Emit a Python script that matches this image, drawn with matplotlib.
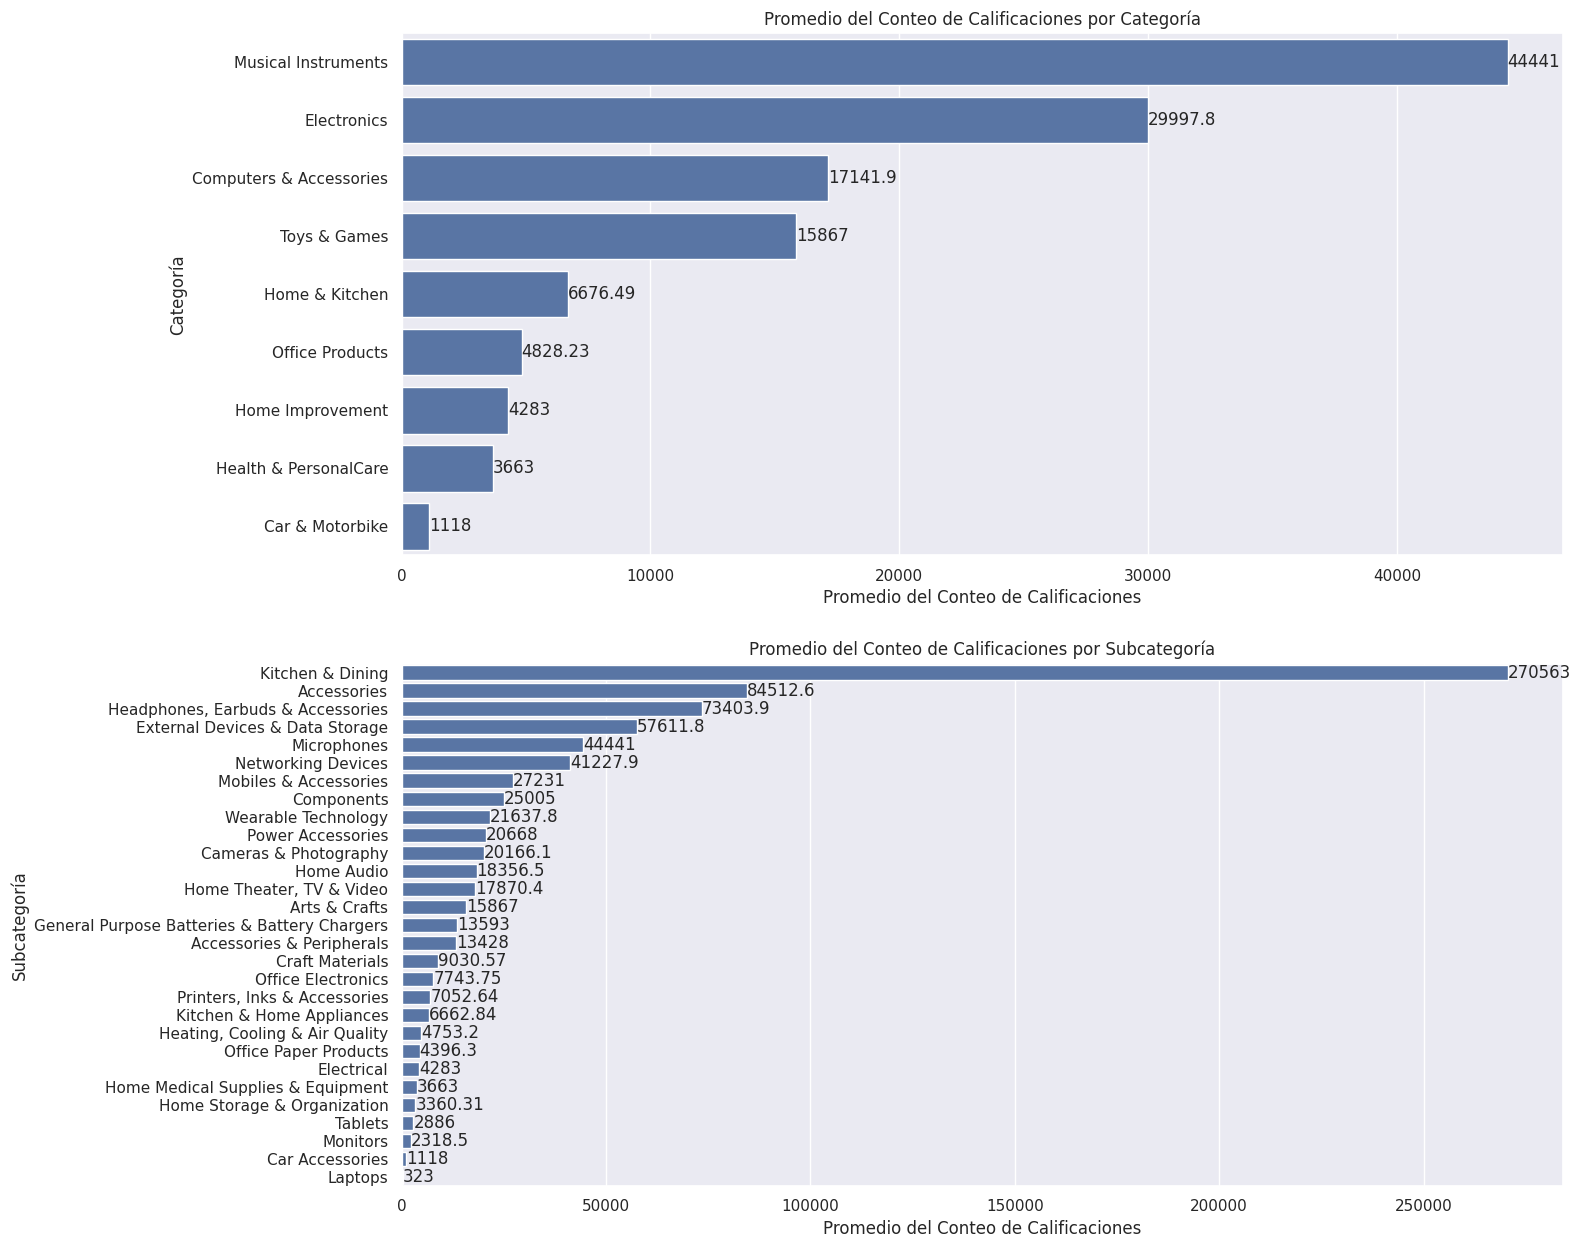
import matplotlib
matplotlib.use('Agg')
import matplotlib.pyplot as plt
import seaborn as sns
import pandas as pd

sns.set_theme()

categorias = ['Musical Instruments', 'Electronics', 'Computers & Accessories', 'Toys & Games',
              'Home & Kitchen', 'Office Products', 'Home Improvement', 'Health & PersonalCare',
              'Car & Motorbike']
cat_valores = [44441, 29997.8, 17141.9, 15867, 6676.49, 4828.23, 4283, 3663, 1118]

subcategorias = ['Kitchen & Dining', 'Accessories', 'Headphones, Earbuds & Accessories',
                 'External Devices & Data Storage', 'Microphones', 'Networking Devices',
                 'Mobiles & Accessories', 'Components', 'Wearable Technology', 'Power Accessories',
                 'Cameras & Photography', 'Home Audio', 'Home Theater, TV & Video', 'Arts & Crafts',
                 'General Purpose Batteries & Battery Chargers', 'Accessories & Peripherals',
                 'Craft Materials', 'Office Electronics', 'Printers, Inks & Accessories',
                 'Kitchen & Home Appliances', 'Heating, Cooling & Air Quality', 'Office Paper Products',
                 'Electrical', 'Home Medical Supplies & Equipment', 'Home Storage & Organization',
                 'Tablets', 'Monitors', 'Car Accessories', 'Laptops']
sub_valores = [270563, 84512.6, 73403.9, 57611.8, 44441, 41227.9, 27231, 25005, 21637.8, 20668,
               20166.1, 18356.5, 17870.4, 15867, 13593, 13428, 9030.57, 7743.75, 7052.64, 6662.84,
               4753.2, 4396.3, 4283, 3663, 3360.31, 2886, 2318.5, 1118, 323]

df_cat = pd.DataFrame({'Categoría': categorias, 'valor': cat_valores})
df_sub = pd.DataFrame({'Subcategoría': subcategorias, 'valor': sub_valores})

fig, axes = plt.subplots(2, 1, figsize=(15.81, 12.49), dpi=100)

ax = axes[0]
sns.barplot(data=df_cat, x='valor', y='Categoría', ax=ax)
ax.bar_label(ax.containers[0])
ax.set_title('Promedio del Conteo de Calificaciones por Categoría')
ax.set_xlabel('Promedio del Conteo de Calificaciones')
ax.set_ylabel('Categoría')

ax = axes[1]
sns.barplot(data=df_sub, x='valor', y='Subcategoría', ax=ax)
ax.bar_label(ax.containers[0])
ax.set_title('Promedio del Conteo de Calificaciones por Subcategoría')
ax.set_xlabel('Promedio del Conteo de Calificaciones')
ax.set_ylabel('Subcategoría')

plt.subplots_adjust(left=0.254, right=0.9886, top=0.9736, bottom=0.0504, hspace=0.207)
plt.savefig('out.png')
